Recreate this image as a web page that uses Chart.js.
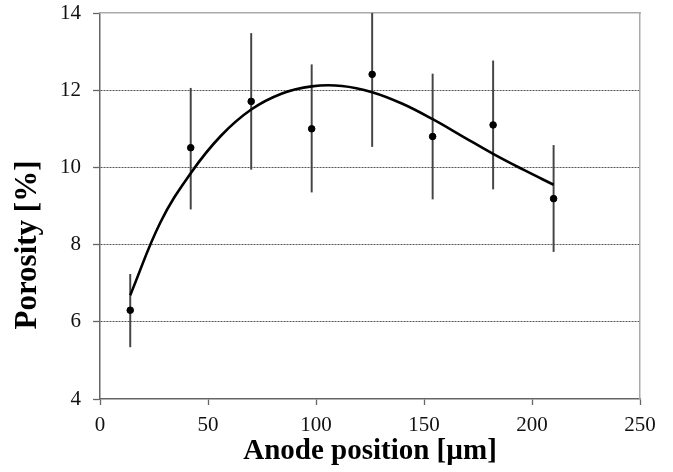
<!DOCTYPE html>
<html>
<head>
<meta charset="utf-8">
<script src="https://cdn.jsdelivr.net/npm/chart.js@4"></script>
<style>
  html, body { margin: 0; padding: 0; background: #fff; }
  #wrap { width: 673px; height: 472px; }
</style>
</head>
<body>
<div id="wrap"><canvas id="c" width="673" height="472"></canvas></div>
<script>
// measured points (anode position in um, porosity in %)
const positions = [14, 42, 70, 98, 126, 154, 182, 210];
const porosity = [6.30, 10.51, 11.71, 11.00, 12.41, 10.80, 11.10, 9.19];
const errLow = [5.35, 8.92, 9.95, 9.36, 10.54, 9.18, 9.44, 7.82];
const errHigh = [7.23, 12.05, 13.47, 12.66, 14.28, 12.42, 12.76, 10.57];

// trend line
const fitX = [14, 28, 42, 56, 70, 84, 98, 112, 126, 140, 154, 168, 182, 196, 210];
const fitY = [6.69, 8.58, 9.85, 10.82, 11.50, 11.91, 12.10, 12.11, 11.95, 11.65, 11.25, 10.80, 10.35, 9.94, 9.55];

const yTicks = [4, 6, 8, 10, 12, 14];
const xTicks = [0, 50, 100, 150, 200, 250];

const serif = "'Liberation Serif', 'Times New Roman', serif";

// y title sits lower than the middle of the axis in the original, so draw it by hand
const yTitle = {
    id: 'yTitle',
    afterDraw(chart) {
        const ctx = chart.ctx;
        const area = chart.chartArea;
        ctx.save();
        ctx.translate(28, (area.top + area.bottom) / 2 + 39);
        ctx.rotate(-Math.PI / 2);
        ctx.font = 'bold 31px ' + serif;
        ctx.fillStyle = '#000';
        ctx.textAlign = 'center';
        ctx.textBaseline = 'middle';
        ctx.fillText('Porosity [%]', 0, 0);
        ctx.restore();
    }
};

new Chart(document.getElementById('c').getContext('2d'), {
    type: 'scatter',
    data: {
        datasets: [
            {
                type: 'bar',
                data: positions.map((x, i) => ({x: x, y: [errLow[i], errHigh[i]]})),
                backgroundColor: '#444',
                barThickness: 1.3,
                order: 3,
            },
            {
                type: 'line',
                data: fitX.map((x, i) => ({x: x, y: fitY[i]})),
                borderColor: '#000',
                borderWidth: 2.6,
                pointRadius: 0,
                tension: 0.4,
                fill: false,
                order: 2,
            },
            {
                type: 'scatter',
                data: positions.map((x, i) => ({x: x, y: porosity[i]})),
                backgroundColor: '#000',
                borderColor: '#000',
                pointRadius: 3.3,
                order: 1,
            }
        ]
    },
    options: {
        responsive: false,
        animation: false,
        layout: {
            padding: {top: 13, right: 33, left: 0, bottom: 0}
        },
        plugins: {
            legend: {display: false},
            tooltip: {enabled: false}
        },
        scales: {
            x: {
                type: 'linear',
                position: 'bottom',
                min: 0,
                max: 250,
                offset: false,
                afterBuildTicks: (s) => { s.ticks = xTicks.map(v => ({value: v})); },
                afterFit: (s) => { s.height = 73; s.paddingLeft = 0; s.paddingRight = 0; },
                ticks: {
                    color: '#111',
                    font: {family: serif, size: 21},
                    padding: 8,
                    maxRotation: 0,
                },
                grid: {
                    display: true,
                    drawOnChartArea: false,
                    tickLength: 6,
                    tickColor: '#666',
                    tickWidth: 1.3,
                    offset: false,
                },
                border: {color: '#666', width: 1.5},
                title: {
                    display: true,
                    text: 'Anode position [µm]',
                    color: '#000',
                    font: {family: serif, size: 29, weight: 'bold'},
                    padding: {top: 0, bottom: 3}
                }
            },
            y: {
                type: 'linear',
                position: 'left',
                min: 4,
                max: 14,
                afterBuildTicks: (s) => { s.ticks = yTicks.map(v => ({value: v})); },
                afterFit: (s) => { s.width = 100; s.paddingTop = 0; s.paddingBottom = 0; },
                ticks: {
                    color: '#111',
                    font: {family: serif, size: 21},
                    padding: 12,
                },
                grid: {
                    color: (ctx) => (ctx.tick && (ctx.tick.value === 4 || ctx.tick.value === 14)) ? 'rgba(0,0,0,0)' : '#555',
                    lineWidth: 1,
                    tickLength: 7,
                    tickColor: '#666',
                    tickWidth: 1.3,
                },
                border: {color: '#666', width: 1.5, dash: [2, 1]}
            },
            x2: {
                type: 'linear',
                position: 'top',
                min: 0,
                max: 250,
                afterFit: (s) => { s.height = 0; s.paddingLeft = 0; s.paddingRight = 0; },
                ticks: {display: false},
                grid: {drawOnChartArea: false, drawTicks: false},
                border: {color: '#aaa', width: 1.5}
            },
            y2: {
                type: 'linear',
                position: 'right',
                min: 4,
                max: 14,
                afterFit: (s) => { s.width = 0; s.paddingTop = 0; s.paddingBottom = 0; },
                ticks: {display: false},
                grid: {drawOnChartArea: false, drawTicks: false},
                border: {color: '#aaa', width: 1.5}
            }
        }
    },
    plugins: [yTitle]
});
</script>
</body>
</html>
